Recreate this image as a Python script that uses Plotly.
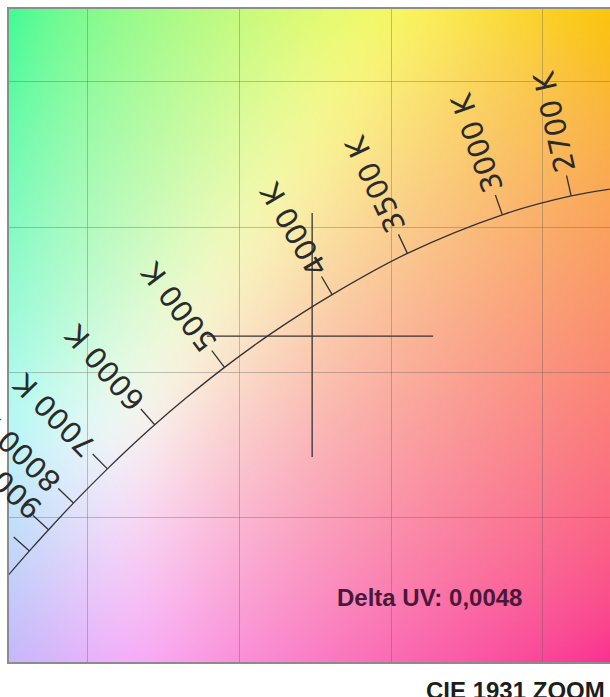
import base64, struct, zlib
import numpy as np
import plotly.graph_objects as go

# ---------------- data ----------------
tick_labels = ["2700 K", "3000 K", "3500 K", "4000 K", "5000 K", "6000 K",
               "7000 K", "8000 K", "9000 K", ""]
tick_cct = [2700, 3000, 3500, 4000, 5000, 6000, 7000, 8000, 9000, 10000]

locus_cct = [2500, 2700, 3000, 3500, 4000, 4500, 5000, 5500, 6000, 6500,
             7000, 8000, 9000, 10000, 12000]
locus_x = [0.4765, 0.4593, 0.4366, 0.4053, 0.3805, 0.3607, 0.3450, 0.3323,
           0.3220, 0.3135, 0.3064, 0.2952, 0.2870, 0.2807, 0.2718]
locus_y = [0.4137, 0.4107, 0.4042, 0.3909, 0.3767, 0.3635, 0.3516, 0.3410,
           0.3318, 0.3237, 0.3166, 0.3048, 0.2956, 0.2883, 0.2776]

point_x = 0.3739
point_y = 0.3624
cross_h_x = [0.3392, 0.4138]
cross_v_y = [0.3207, 0.4048]

delta_uv_text = "Delta UV: 0,0048"
title_text = "CIE 1931 ZOOM"

# ---------------- layout geometry ----------------
W, H = 610, 697
ML, MT, MR, MB = 9, 9, 0, 35
XR = [0.27396, 0.47210]
YR = [0.25, 0.47517]
PW, PH = W - ML - MR, H - MT - MB
sx = PW / (XR[1] - XR[0])
sy = PH / (YR[1] - YR[0])

TICK_LEN = 21
GAP = 4
LABEL_SIZE = 29
CHAR_W = {"0": 0.636, "1": 0.636, "2": 0.636, "3": 0.636, "4": 0.636, "5": 0.636,
          "6": 0.636, "7": 0.636, "8": 0.636, "9": 0.636, " ": 0.318, "K": 0.656}

# ---------------- background (chromaticity colours) ----------------
def chroma_lin(xx, yy):
    X = xx / yy
    Z = (1 - xx - yy) / yy
    Y = np.ones_like(xx)
    r = 3.2406 * X - 1.5372 * Y - 0.4986 * Z
    g = -0.9689 * X + 1.8758 * Y + 0.0415 * Z
    b = 0.0557 * X - 0.2040 * Y + 1.0570 * Z
    rgb = np.clip(np.stack([r, g, b], -1), 0, None)
    rgb = rgb / rgb.max(axis=-1, keepdims=True)
    rgb = np.where(rgb > 0.0031308, 1.055 * rgb ** (1 / 2.4) - 0.055, 12.92 * rgb)
    return np.clip(rgb, 0, 1)

def gblur(a, s):
    r = int(3 * s)
    k = np.exp(-0.5 * (np.arange(-r, r + 1) / s) ** 2)
    k /= k.sum()
    out = np.zeros_like(a)
    for i, w in enumerate(k):
        out += w * np.roll(a, i - r, axis=0)
    a2 = out
    out = np.zeros_like(a2)
    for i, w in enumerate(k):
        out += w * np.roll(a2, i - r, axis=1)
    return out

NX, NY = 240, 260
PAD = 45
cx = (XR[1] - XR[0]) / NX
cy = (YR[1] - YR[0]) / NY
gx = XR[0] + (np.arange(-PAD, NX + PAD) + 0.5) * cx
gy = YR[1] - (np.arange(-PAD, NY + PAD) + 0.5) * cy
GX, GY = np.meshgrid(gx, gy)
field = gblur(chroma_lin(GX, GY), 12.0)[PAD:PAD + NY, PAD:PAD + NX]
field = 0.05 + 0.93 * field
img = (np.clip(field, 0, 1) * 255).round().astype(np.uint8)

def png_uri(arr):
    h, w, _ = arr.shape
    raw = b"".join(b"\x00" + arr[i].tobytes() for i in range(h))
    def chunk(t, d):
        return struct.pack(">I", len(d)) + t + d + struct.pack(">I", zlib.crc32(t + d) & 0xffffffff)
    data = (b"\x89PNG\r\n\x1a\n" + chunk(b"IHDR", struct.pack(">IIBBBBB", w, h, 8, 2, 0, 0, 0))
            + chunk(b"IDAT", zlib.compress(raw, 9)) + chunk(b"IEND", b""))
    return "data:image/png;base64," + base64.b64encode(data).decode()

# ---------------- figure ----------------
fig = go.Figure()

fig.add_trace(go.Scatter(x=locus_x, y=locus_y, mode="lines",
                         line=dict(color="#333333", width=1.3, shape="spline"),
                         hoverinfo="skip", showlegend=False))

fig.add_trace(go.Scatter(x=[cross_h_x[0], cross_h_x[1], None, point_x, point_x],
                         y=[point_y, point_y, None, cross_v_y[0], cross_v_y[1]],
                         mode="lines", line=dict(color="#333333", width=1.3),
                         hoverinfo="skip", showlegend=False))

tx, ty = [], []
annotations = []
for lab, t in zip(tick_labels, tick_cct):
    j = locus_cct.index(t)
    px, py = locus_x[j], locus_y[j]
    a, b = max(j - 1, 0), min(j + 1, len(locus_cct) - 1)
    dxp = (locus_x[b] - locus_x[a]) * sx
    dyp = -(locus_y[b] - locus_y[a]) * sy
    n = np.array([-dyp, dxp])
    if n[1] > 0:
        n = -n
    n = n / np.hypot(*n)
    tx += [px, px + n[0] * TICK_LEN / sx, None]
    ty += [py, py - n[1] * TICK_LEN / sy, None]
    if not lab:
        continue
    L = sum(CHAR_W[c] for c in lab) * LABEL_SIZE
    off = TICK_LEN + GAP + L / 2
    ang = float(np.degrees(np.arctan2(n[1], n[0])))
    annotations.append(dict(x=px, y=py, xref="x", yref="y", text=lab,
                            showarrow=True, arrowcolor="rgba(0,0,0,0)", arrowwidth=0.1,
                            ax=float(n[0] * off), ay=float(n[1] * off),
                            textangle=ang,
                            font=dict(family="DejaVu Sans", size=LABEL_SIZE, color="#2b2b2b")))

fig.add_trace(go.Scatter(x=tx, y=ty, mode="lines",
                         line=dict(color="#333333", width=1.3),
                         hoverinfo="skip", showlegend=False))

annotations.append(dict(x=(335 - ML) / PW, y=(H - MB - 597) / PH, xref="paper", yref="paper",
                        text=delta_uv_text, showarrow=False, xanchor="left", yanchor="middle",
                        font=dict(family="Liberation Sans, Arial", size=24, color="#4a1838",
                                  weight="bold")))
annotations.append(dict(x=(607 - ML) / PW, y=(H - MB - 690.5) / PH, xref="paper", yref="paper",
                        text=title_text, showarrow=False, xanchor="right", yanchor="middle",
                        font=dict(family="Liberation Sans, Arial", size=24, color="#1e1e1e",
                                  weight="bold")))

fig.update_layout(
    width=W, height=H,
    margin=dict(l=ML, r=MR, t=MT, b=MB, pad=0),
    paper_bgcolor="white", plot_bgcolor="white",
    showlegend=False,
    annotations=annotations,
    images=[dict(source=png_uri(img), xref="x", yref="y", x=XR[0], y=YR[1],
                 sizex=XR[1] - XR[0], sizey=YR[1] - YR[0], sizing="stretch",
                 xanchor="left", yanchor="top", layer="below")],
    xaxis=dict(range=XR, showticklabels=False, ticks="", dtick=0.05, tick0=0,
               showgrid=True, gridcolor="rgba(90,90,90,0.35)", gridwidth=1,
               zeroline=False, showline=True, mirror=True, linecolor="#8c8c8c", linewidth=1.5,
               fixedrange=True),
    yaxis=dict(range=YR, showticklabels=False, ticks="", dtick=0.05, tick0=0,
               showgrid=True, gridcolor="rgba(90,90,90,0.35)", gridwidth=1,
               zeroline=False, showline=True, mirror=False, linecolor="#8c8c8c", linewidth=1.5,
               fixedrange=True),
)

fig.write_html("out.html", config={"displayModeBar": False, "responsive": False},
               post_script="document.body.style.margin='0';"
                           "document.documentElement.style.overflow='hidden';"
                           "document.body.style.overflow='hidden';")
